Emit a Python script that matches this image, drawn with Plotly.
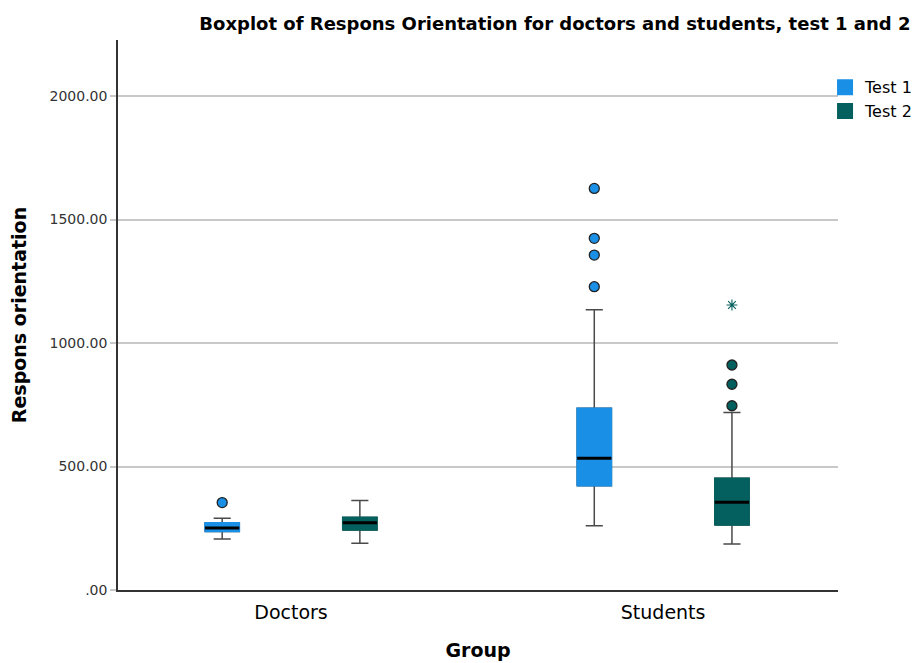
import plotly.graph_objects as go

groups = ["Doctors", "Students"]
series_names = ["Test 1", "Test 2"]
colors = ["#1990E6", "#03605E"]

test1_lower = [206, 260]
test1_q1 = [237, 422]
test1_median = [251, 533]
test1_q3 = [272, 736]
test1_upper = [291, 1135]
test1_outliers = [[354], [1228, 1356, 1424, 1626]]
test1_extremes = [[], []]

test2_lower = [189, 186]
test2_q1 = [243, 263]
test2_median = [272, 355]
test2_q3 = [294, 452]
test2_upper = [362, 719]
test2_outliers = [[], [746, 833, 911]]
test2_extremes = [[], [1154]]

ytick_vals = [0, 500, 1000, 1500, 2000]
ytick_text = [".00", "500.00", "1000.00", "1500.00", "2000.00"]

series = [
    dict(lower=test1_lower, q1=test1_q1, med=test1_median, q3=test1_q3, upper=test1_upper,
         out=test1_outliers, ext=test1_extremes),
    dict(lower=test2_lower, q1=test2_q1, med=test2_median, q3=test2_q3, upper=test2_upper,
         out=test2_outliers, ext=test2_extremes),
]

offset = 0.185
bw = 0.092
FONT = "DejaVu Sans"

fig = go.Figure()

for s_i, s in enumerate(series):
    col = colors[s_i]
    shift = -offset if s_i == 0 else offset
    pos = [g + shift for g in range(len(groups))]
    # whiskers via box trace
    fig.add_trace(go.Box(
        x=pos, q1=s["q1"], median=s["med"], q3=s["q3"],
        lowerfence=s["lower"], upperfence=s["upper"],
        width=bw, whiskerwidth=0.5, boxpoints=False,
        fillcolor=col, line=dict(color="#4a4a4a", width=1.5),
        showlegend=False, hoverinfo="skip",
    ))
    # box body
    rx, ry = [], []
    mx, my = [], []
    for i, c in enumerate(pos):
        rx += [c - bw / 2, c + bw / 2, c + bw / 2, c - bw / 2, c - bw / 2, None]
        ry += [s["q1"][i], s["q1"][i], s["q3"][i], s["q3"][i], s["q1"][i], None]
        mx += [c - bw / 2, c + bw / 2, None]
        my += [s["med"][i], s["med"][i], None]
    fig.add_trace(go.Scatter(x=rx, y=ry, mode="lines", fill="toself", fillcolor=col,
                             line=dict(color=col, width=1.6), showlegend=False, hoverinfo="skip"))
    fig.add_trace(go.Scatter(x=mx, y=my, mode="lines", line=dict(color="black", width=3),
                             showlegend=False, hoverinfo="skip"))
    # outliers
    ox, oy = [], []
    ex, ey = [], []
    for i, c in enumerate(pos):
        ox += [c] * len(s["out"][i])
        oy += s["out"][i]
        ex += [c] * len(s["ext"][i])
        ey += s["ext"][i]
    fig.add_trace(go.Scatter(x=ox, y=oy, mode="markers",
                             marker=dict(symbol="circle", size=10, color=col,
                                         line=dict(color="#222222", width=1.3)),
                             showlegend=False, hoverinfo="skip"))
    if ex:
        fig.add_trace(go.Scatter(x=ex, y=ey, mode="markers",
                                 marker=dict(symbol="asterisk-open", size=9, color=col,
                                             line=dict(color=col, width=1.1)),
                                 showlegend=False, hoverinfo="skip"))
    # legend swatch
    fig.add_trace(go.Scatter(x=[None], y=[None], mode="markers", name=series_names[s_i],
                             marker=dict(symbol="square", size=17, color=col)))

fig.update_layout(
    width=913, height=655,
    margin=dict(l=110, r=83, t=32, b=73, autoexpand=False),
    paper_bgcolor="white", plot_bgcolor="white",
    font=dict(family=FONT, color="#222222"),
    title=dict(text="<b>Boxplot of Respons Orientation for doctors and students, test 1 and 2</b>",
               x=0.599, xanchor="center", xref="container", y=0.9756, yanchor="middle",
               font=dict(size=18, color="black", family=FONT)),
    legend=dict(x=0.982, xanchor="left", y=0.945, yanchor="top", bgcolor="rgba(0,0,0,0)",
                font=dict(size=16, color="black", family=FONT), itemwidth=30,
                tracegroupgap=0),
    xaxis=dict(range=[-0.465, 1.47], tickvals=list(range(len(groups))), ticktext=groups,
               showgrid=False, zeroline=False, showline=True, linecolor="#333333", linewidth=1.5,
               ticks="outside", ticklen=4, tickcolor="rgba(0,0,0,0)", automargin=False,
               tickfont=dict(size=19, color="black"),
               title=dict(text="<b>Group</b>", font=dict(size=19, color="black"), standoff=22)),
    yaxis=dict(range=[0, 2227], tickvals=ytick_vals, ticktext=ytick_text, automargin=False,
               showgrid=True, gridcolor="#c8c8c8", gridwidth=1.5, zeroline=False,
               showline=True, linecolor="#333333", linewidth=1.5,
               ticks="outside", ticklen=6, tickcolor="#c8c8c8", tickwidth=1.5,
               tickfont=dict(size=14, color="#333333"),
               title=dict(text="<b>Respons orientation</b>", font=dict(size=19, color="black"), standoff=19)),
)

fig.write_html("out.html")
